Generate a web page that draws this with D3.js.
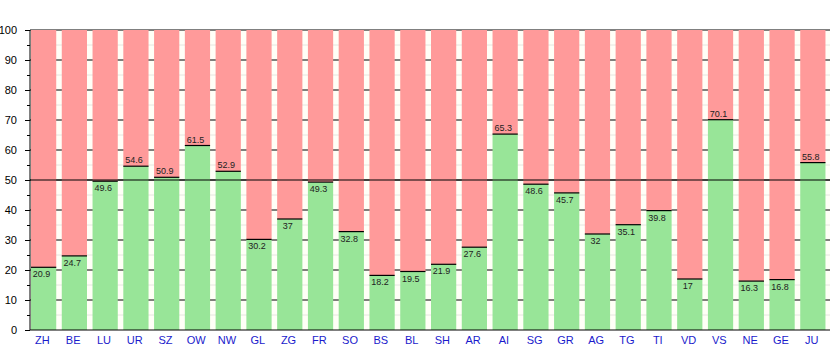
<!DOCTYPE html>
<html>
<head>
<meta charset="utf-8">
<script src="https://cdn.jsdelivr.net/npm/d3@7"></script>
<style>
  html, body { margin: 0; padding: 0; background: #ffffff; }
  svg { display: block; font-family: "Liberation Sans", Arial, sans-serif; }
</style>
</head>
<body>
<svg id="chart" width="835" height="350"></svg>
<script>
// Cantons and the "yes" share (%) per canton
const cantons = ["ZH","BE","LU","UR","SZ","OW","NW","GL","ZG","FR","SO","BS","BL","SH","AR","AI","SG","GR","AG","TG","TI","VD","VS","NE","GE","JU"];
const yesShare = [20.9,24.7,49.6,54.6,50.9,61.5,52.9,30.2,37,49.3,32.8,18.2,19.5,21.9,27.6,65.3,48.6,45.7,32,35.1,39.8,17,70.1,16.3,16.8,55.8];
const majorTicks = [0,10,20,30,40,50,60,70,80,90,100];
const minorTicks = [5,15,25,35,45,55,65,75,85,95];
const threshold = 50;

const svg = d3.select("#chart");
const plotLeft = 30, plotRight = 830, plotTop = 30, plotBottom = 330;

const x = d3.scaleBand().domain(cantons).range([plotLeft, plotRight]).paddingInner(0).paddingOuter(0);
const y = d3.scaleLinear().domain([0, 100]).range([plotBottom, plotTop]);
const step = x.bandwidth();
const barW = step * 0.82;
const barX = d => x(d) + 1;

// plot background
svg.append("rect").attr("x", plotLeft).attr("y", plotTop)
  .attr("width", plotRight - plotLeft).attr("height", plotBottom - plotTop)
  .attr("fill", "#fffff7");

// faint minor gridlines
svg.append("g").selectAll("line").data(minorTicks).join("line")
  .attr("x1", plotLeft).attr("x2", plotRight).attr("y1", d => y(d)).attr("y2", d => y(d))
  .attr("stroke", "#e6e6e0").attr("stroke-width", 1);

// major gridlines
svg.append("g").selectAll("line").data(majorTicks.filter(d => d > 0)).join("line")
  .attr("x1", plotLeft).attr("x2", plotRight).attr("y1", d => y(d)).attr("y2", d => y(d))
  .attr("stroke", "#000").attr("stroke-width", 1);

const rows = cantons.map((c, i) => ({ c, v: yesShare[i] }));

// "no" part (top, red) and "yes" part (bottom, green)
const bars = svg.append("g");
bars.selectAll("rect.no").data(rows).join("rect").attr("class", "no")
  .attr("x", d => barX(d.c)).attr("width", barW)
  .attr("y", y(100)).attr("height", d => y(d.v) - y(100))
  .attr("fill", "#ff9a9a");
bars.selectAll("rect.yes").data(rows).join("rect").attr("class", "yes")
  .attr("x", d => barX(d.c)).attr("width", barW)
  .attr("y", d => y(d.v)).attr("height", d => y(0) - y(d.v))
  .attr("fill", "#98e598");
bars.selectAll("line.val").data(rows).join("line").attr("class", "val")
  .attr("x1", d => barX(d.c)).attr("x2", d => barX(d.c) + barW)
  .attr("y1", d => y(d.v)).attr("y2", d => y(d.v))
  .attr("stroke", "#000").attr("stroke-width", 1.2);

// value labels: above the line when over 50, below otherwise
bars.selectAll("text.val").data(rows).join("text").attr("class", "val")
  .attr("x", d => barX(d.c) + barW / 2 - 2)
  .attr("y", d => d.v > threshold ? y(d.v) - 3 : y(d.v) + 10)
  .attr("text-anchor", "middle").attr("font-size", 9).attr("fill", "#222")
  .text(d => d.v);

// 50% reference line
svg.append("line").attr("x1", plotLeft).attr("x2", plotRight)
  .attr("y1", y(threshold)).attr("y2", y(threshold))
  .attr("stroke", "#000").attr("stroke-width", 1.2);

// y axis with major and minor ticks
const yAxis = svg.append("g").attr("transform", `translate(${plotLeft},0)`)
  .call(d3.axisLeft(y).tickValues(majorTicks).tickSize(5).tickPadding(8));
svg.append("g").attr("transform", `translate(${plotLeft},0)`)
  .call(d3.axisLeft(y).tickValues(minorTicks).tickSize(3).tickFormat(""))
  .call(g => g.select(".domain").remove());
yAxis.selectAll("text").attr("font-size", 11).attr("fill", "#000")
  .attr("font-family", "Liberation Sans, Arial, sans-serif");
svg.selectAll(".tick line").attr("stroke", "#000");
yAxis.select(".domain").attr("stroke", "#000").attr("d", `M0,${plotTop}V${plotBottom}`);

// x axis with canton codes
const xAxis = svg.append("g").attr("transform", `translate(0,${plotBottom})`)
  .call(d3.axisBottom(x).tickSize(0).tickPadding(6));
xAxis.select(".domain").attr("stroke", "#000").attr("d", `M${plotLeft},0H${plotRight}`);
xAxis.selectAll(".tick text")
  .attr("x", -3)
  .attr("font-size", 11).attr("fill", "#1a1acc")
  .attr("font-family", "Liberation Sans, Arial, sans-serif");
</script>
</body>
</html>
